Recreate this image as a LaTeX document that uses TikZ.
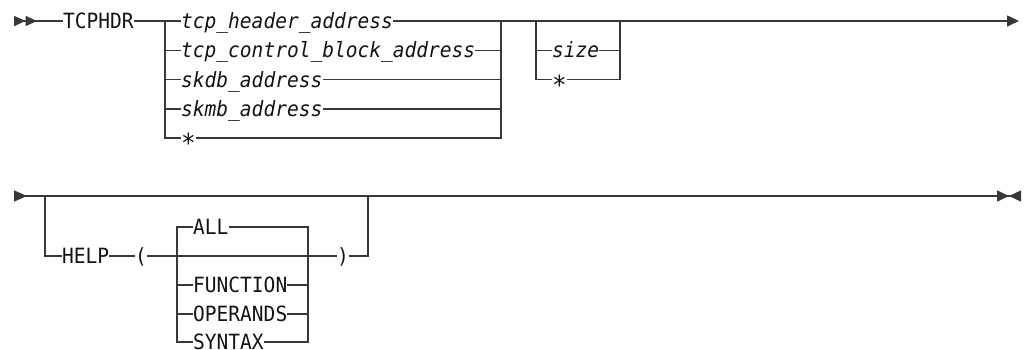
\documentclass[tikz,border=0pt]{standalone}
\usepackage{fontspec}
\newfontfamily\synfont[FakeStretch=0.93]{DejaVu Sans Mono}
\usetikzlibrary{arrows.meta}
\tikzset{
  kw/.style   ={anchor=west,inner sep=0pt,text height=15.3pt,text depth=0pt,text=black!92,
                font=\synfont\fontsize{21pt}{21pt}\selectfont},
  var/.style  ={kw,font=\synfont\itshape\fontsize{21pt}{21pt}\selectfont},
  rail/.style ={line width=1.5pt,draw=black!78},
  railin/.style  ={rail,{Triangle[reversed,length=11.5pt,width=10pt,sep=0pt]
                    Triangle[reversed,length=11.5pt,width=10pt,sep=0pt]}-},
  railcont/.style={rail,-{Triangle[length=12pt,width=11pt,sep=0pt]}},
  railstop/.style={rail,{Triangle[reversed,length=13pt,width=11pt,sep=0pt]}-{Triangle[length=12pt,width=11pt,sep=0pt]
                    Triangle[reversed,length=12pt,width=11pt,sep=0pt]}},
}
\newcommand{\asterisk}{\raisebox{-7pt}{\scalebox{1.25}{*}}}

\begin{document}
\begin{tikzpicture}[x=1pt,y=-1pt]
  \useasboundingbox (0,0) rectangle (1024,349);

  % first line
  \coordinate (s1) at (14,21);
  \coordinate (e1) at (1019,21);
  \coordinate (j1) at (165,21);
  \coordinate (k1) at (501,21);
  \coordinate (j2) at (536,21);
  \coordinate (k2) at (620,21);
  \node[kw]  (tcphdr) at (63,21)     {TCPHDR};
  \node[var] (hdr)    at (181,21)    {tcp\_header\_address};
  \node[var] (tcb)    at (181,50.25) {tcp\_control\_block\_address};
  \node[var] (skdb)   at (181,79.5)  {skdb\_address};
  \node[var] (skmb)   at (181,108.75){skmb\_address};
  \node[kw]  (star1)  at (181,138)   {\asterisk};
  \node[var] (size)   at (552,50.25) {size};
  \node[kw]  (star2)  at (552,79.5)  {\asterisk};

  \draw[railin] (s1) -- (tcphdr.west);
  \draw[rail] (tcphdr.east) -- (hdr.west);
  \draw[railcont] (hdr.east) -- (e1);
  \draw[rail] (j1) |- (star1.west);
  \draw[rail] (star1.east) -| (k1);
  \foreach \n in {tcb,skdb,skmb}{
    \draw[rail] (j1 |- \n) -- (\n.west);
    \draw[rail] (\n.east) -- (\n -| k1);
  }
  \draw[rail] (j2) |- (star2.west);
  \draw[rail] (star2.east) -| (k2);
  \draw[rail] (j2 |- size) -- (size.west);
  \draw[rail] (size.east) -- (size -| k2);

  % second line
  \coordinate (s2) at (14,196);
  \coordinate (e2) at (1021,196);
  \coordinate (j3) at (45,196);
  \coordinate (k3) at (368,196);
  \coordinate (j4) at (177,227);
  \coordinate (k4) at (308,227);
  \node[kw] (help) at (62,256)  {HELP};
  \node[kw] (lpar) at (135,256) {(};
  \node[kw] (rpar) at (337,256) {)};
  \node[kw] (all)  at (193,227) {ALL};
  \node[kw] (fn)   at (193,285) {FUNCTION};
  \node[kw] (ops)  at (193,314) {OPERANDS};
  \node[kw] (syn)  at (193,342) {SYNTAX};

  \draw[railstop] (s2) -- (e2);
  \draw[rail] (j3) |- (help.west);
  \draw[rail] (help.east) -- (lpar.west);
  \draw[rail] (lpar.east) -- (rpar.west);
  \draw[rail] (rpar.east) -| (k3);
  \draw[rail] (all.west) -- (j4) |- (syn.west);
  \draw[rail] (all.east) -- (k4) |- (syn.east);
  \foreach \n in {fn,ops}{
    \draw[rail] (j4 |- \n) -- (\n.west);
    \draw[rail] (\n.east) -- (\n -| k4);
  }
\end{tikzpicture}
\end{document}
